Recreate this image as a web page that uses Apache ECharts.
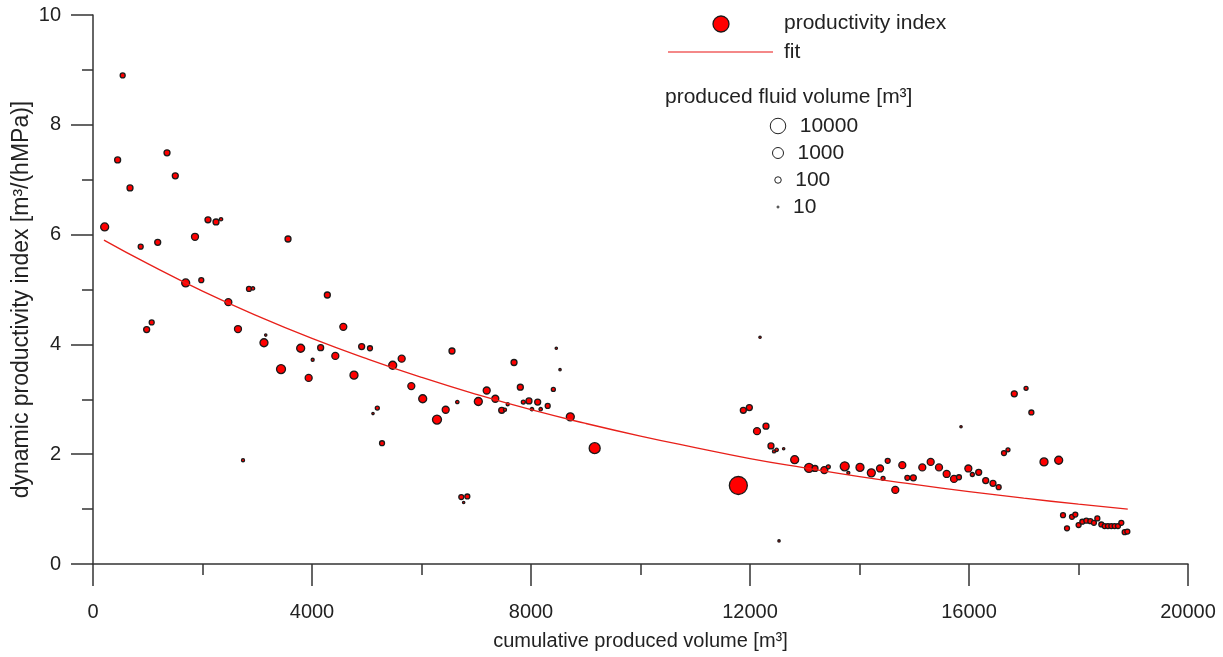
<!DOCTYPE html>
<html>
<head>
<meta charset="utf-8">
<script src="https://cdn.jsdelivr.net/npm/echarts@6/dist/echarts.min.js"></script>
<style>
  html, body { margin: 0; padding: 0; background: #fff; }
  #main { width: 1223px; height: 657px; }
</style>
</head>
<body>
<div id="main"></div>
<script>
// cumulative produced volume [m3]
var xs = [213, 450, 542, 676, 871, 980, 1072, 1182, 1352, 1503,
  1693, 1863, 1978, 2100, 2247, 2338, 2472, 2648, 2740, 2849,
  2922, 3123, 3155, 3434, 3562, 3793, 3939, 4012, 4158, 4280,
  4426, 4572, 4767, 4907, 5059, 5114, 5193, 5279, 5474, 5638,
  5814, 6022, 6283, 6442, 6557, 6654, 6727, 6770, 6837, 7038,
  7191, 7348, 7465, 7525, 7574, 7690, 7805, 7860, 7963, 8018,
  8122, 8177, 8305, 8408, 8462, 8530, 8718, 9163, 11787, 11878,
  11988, 12128, 12183, 12292, 12383, 12438, 12487, 12530, 12615, 12816,
  13078, 13187, 13357, 13430, 13730, 13796, 14009, 14216, 14375, 14430,
  14515, 14654, 14782, 14874, 14983, 15147, 15300, 15452, 15592, 15726,
  15817, 15854, 15988, 16061, 16177, 16305, 16438, 16542, 16639, 16712,
  16827, 17042, 17139, 17370, 17638, 17717, 17790, 17881, 17942, 18002,
  18070, 18143, 18216, 18282, 18344, 18417, 18477, 18538, 18600, 18660,
  18721, 18782, 18843, 18892];

// dynamic productivity index [m3/(hMPa)]
var ys = [6.14, 7.36, 8.90, 6.85, 5.78, 4.27, 4.40, 5.86, 7.49, 7.07,
  5.12, 5.96, 5.17, 6.27, 6.23, 6.28, 4.77, 4.28, 1.89, 5.01,
  5.02, 4.03, 4.17, 3.55, 5.92, 3.93, 3.39, 3.72, 3.94, 4.90,
  3.79, 4.32, 3.44, 3.96, 3.93, 2.74, 2.84, 2.20, 3.62, 3.74,
  3.24, 3.01, 2.63, 2.81, 3.88, 2.95, 1.22, 1.12, 1.23, 2.96,
  3.16, 3.01, 2.80, 2.81, 2.91, 3.67, 3.22, 2.95, 2.97, 2.82,
  2.95, 2.82, 2.88, 3.18, 3.93, 3.54, 2.68, 2.11, 1.43, 2.80,
  2.85, 2.42, 4.13, 2.51, 2.15, 2.05, 2.08, 0.42, 2.10, 1.90,
  1.75, 1.74, 1.71, 1.77, 1.78, 1.66, 1.76, 1.66, 1.74, 1.56,
  1.88, 1.35, 1.80, 1.57, 1.57, 1.76, 1.86, 1.76, 1.64, 1.55,
  1.58, 2.50, 1.74, 1.63, 1.67, 1.52, 1.47, 1.40, 2.02, 2.08,
  3.10, 3.20, 2.76, 1.86, 1.89, 0.89, 0.65, 0.86, 0.90, 0.71,
  0.77, 0.79, 0.78, 0.75, 0.83, 0.72, 0.69, 0.69, 0.69, 0.69,
  0.69, 0.75, 0.58, 0.59];

// produced fluid volume [m3] (bubble size)
var volumes = [215, 77, 46, 77, 46, 77, 46, 77, 77, 77,
  215, 129, 46, 77, 77, 20, 129, 129, 17, 46,
  20, 215, 12, 360, 77, 215, 129, 17, 77, 77,
  129, 129, 215, 77, 46, 12, 28, 46, 215, 129,
  129, 215, 360, 129, 77, 20, 46, 12, 46, 215,
  129, 129, 77, 17, 17, 77, 77, 28, 77, 20,
  77, 20, 46, 28, 12, 12, 215, 1000, 36000, 77,
  77, 129, 12, 77, 77, 17, 20, 12, 12, 215,
  360, 77, 129, 28, 360, 17, 215, 215, 129, 28,
  46, 129, 129, 46, 77, 129, 129, 129, 129, 129,
  46, 12, 129, 28, 77, 77, 77, 46, 46, 28,
  77, 28, 46, 215, 215, 46, 46, 46, 46, 46,
  46, 46, 46, 46, 46, 46, 46, 46, 46, 46,
  46, 46, 46, 46];

// fit curve
var fitX = [200, 1000, 2000, 3000, 4000, 5000, 6000, 7000, 8000, 9000,
  10000, 11000, 12000, 13000, 14000, 15000, 16000, 17000, 18000, 18900];
var fitY = [5.90, 5.47, 4.97, 4.52, 4.11, 3.74, 3.40, 3.09, 2.81, 2.56,
  2.33, 2.12, 1.92, 1.75, 1.59, 1.45, 1.32, 1.20, 1.09, 1.00];

var legendSizes = [10000, 1000, 100, 10];

var FONT = 'Liberation Sans, Arial, sans-serif';

function bubble(v) {
    return Math.max(2, 4.5 * Math.log10(v) - 2.5);
}

var points = xs.map(function (x, i) { return [x, ys[i], volumes[i]]; });
var fitLine = fitX.map(function (x, i) { return [x, fitY[i]]; });

var graphics = [
    { type: 'circle', shape: { cx: 721, cy: 24, r: 8 },
      style: { fill: '#ff0000', stroke: '#1a1a1a', lineWidth: 1.3 } },
    { type: 'text', x: 784, y: 23,
      style: { text: 'productivity index', font: '21px ' + FONT, fill: '#222', verticalAlign: 'middle' } },
    { type: 'line', shape: { x1: 668, y1: 52, x2: 773, y2: 52 },
      style: { stroke: '#f06060', lineWidth: 1.5 } },
    { type: 'text', x: 784, y: 52,
      style: { text: 'fit', font: '21px ' + FONT, fill: '#222', verticalAlign: 'middle' } },
    { type: 'text', x: 665, y: 97,
      style: { text: 'produced fluid volume [m³]', font: '21px ' + FONT, fill: '#222', verticalAlign: 'middle' } }
];
legendSizes.forEach(function (v, i) {
    var cy = 126 + i * 27;
    var r = bubble(v) / 2;
    graphics.push({ type: 'circle', shape: { cx: 778, cy: cy, r: r },
        style: { fill: '#fff', stroke: '#222', lineWidth: 1 } });
    graphics.push({ type: 'text', x: 778 + 14 + r, y: cy,
        style: { text: String(v), font: '21px ' + FONT, fill: '#222', verticalAlign: 'middle' } });
});

var chart = echarts.init(document.getElementById('main'));
chart.setOption({
    animation: false,
    backgroundColor: '#fff',
    grid: { left: 93, right: 35, top: 15, bottom: 93, outerBoundsMode: 'none', containLabel: false },
    xAxis: {
        type: 'value',
        min: 0, max: 20000, interval: 4000,
        name: 'cumulative produced volume [m³]',
        nameLocation: 'middle',
        nameGap: 67,
        nameMoveOverlap: false,
        nameTextStyle: { fontFamily: FONT, fontSize: 20, color: '#222' },
        axisLine: { onZero: false, lineStyle: { color: '#333', width: 1.5 } },
        axisTick: { length: 22, lineStyle: { color: '#333', width: 1.5 } },
        minorTick: { show: true, splitNumber: 2, length: 11, lineStyle: { color: '#333', width: 1.5 } },
        axisLabel: { margin: 38, fontFamily: FONT, fontSize: 20, color: '#222',
            formatter: function (v) { return String(v); } },
        splitLine: { show: false }
    },
    yAxis: {
        type: 'value',
        min: 0, max: 10, interval: 2,
        name: 'dynamic productivity index [m³/(hMPa)]',
        nameLocation: 'middle',
        nameGap: 60,
        nameMoveOverlap: false,
        nameTextStyle: { fontFamily: FONT, fontSize: 23, color: '#222', padding: [0, 20, 0, 0] },
        axisLine: { show: true, onZero: false, lineStyle: { color: '#333', width: 1.5 } },
        axisTick: { show: true, length: 22, lineStyle: { color: '#333', width: 1.5 } },
        minorTick: { show: true, splitNumber: 2, length: 11, lineStyle: { color: '#333', width: 1.5 } },
        axisLabel: { margin: 32, fontFamily: FONT, fontSize: 20, color: '#222' },
        splitLine: { show: false }
    },
    graphic: graphics,
    series: [
        {
            name: 'fit',
            type: 'line',
            data: fitLine,
            smooth: true,
            showSymbol: false,
            z: 3,
            lineStyle: { color: '#e8201a', width: 1.3 }
        },
        {
            name: 'productivity index',
            type: 'scatter',
            data: points,
            z: 2,
            symbol: 'circle',
            symbolSize: function (val) { return bubble(val[2]); },
            itemStyle: { color: '#ff0000', borderColor: '#1a1a1a', borderWidth: 1.3, opacity: 1 }
        }
    ]
});
</script>
</body>
</html>
